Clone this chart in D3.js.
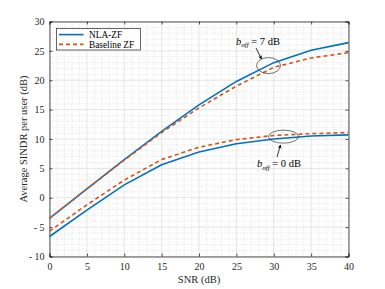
<!DOCTYPE html>
<html><head><meta charset="utf-8">
<script src="https://d3js.org/d3.v7.min.js"></script>
<style>body{margin:0;background:#fff}svg{display:block}svg text{font-family:'Liberation Serif','Times New Roman','DejaVu Serif',serif !important;}</style>
</head><body><svg id="c" width="385" height="289" font-family="Liberation Serif"></svg>
<script>
const snr = [0,5,10,15,20,25,30,35,40];
const nla7 = [-3.5,1.5,6.5,11.3,15.8,19.8,23.0,25.1,26.4];
const base7 = [-3.5,1.5,6.4,11.1,15.3,19.0,22.2,23.8,24.7];
const nla0 = [-6.6,-2.1,2.2,5.6,7.8,9.2,10.0,10.5,10.7];
const base0 = [-5.7,-1.2,3.0,6.5,8.6,9.9,10.6,10.9,11.1];
const xTicks = [0,5,10,15,20,25,30,35,40];
const yTicks = [-10,-5,0,5,10,15,20,25,30];
const seriesNames = ["NLA-ZF","Baseline ZF"];

const svg = d3.select("#c");
const L=49.5,R=348.5,T=21.5,B=256.5;
const x = d3.scaleLinear().domain([0,40]).range([L,R]);
const y = d3.scaleLinear().domain([-10,30]).range([B,T]);
const g = svg.append("g");
const minorX = d3.range(0,41,1).filter(v=>v%5!==0);
const minorY = d3.range(-10,31,1).filter(v=>v%5!==0);
g.selectAll(".mx").data(minorX).enter().append("line")
 .attr("x1",d=>x(d)).attr("x2",d=>x(d)).attr("y1",T).attr("y2",B)
 .attr("stroke","#d4d4d4").attr("stroke-width",0.6).attr("stroke-dasharray","1,1.5");
g.selectAll(".my").data(minorY).enter().append("line")
 .attr("y1",d=>y(d)).attr("y2",d=>y(d)).attr("x1",L).attr("x2",R)
 .attr("stroke","#d4d4d4").attr("stroke-width",0.6).attr("stroke-dasharray","1,1.5");
g.selectAll(".gx").data(xTicks).enter().append("line")
 .attr("x1",d=>x(d)).attr("x2",d=>x(d)).attr("y1",T).attr("y2",B)
 .attr("stroke","#dedede").attr("stroke-width",0.8);
g.selectAll(".gy").data(yTicks).enter().append("line")
 .attr("y1",d=>y(d)).attr("y2",d=>y(d)).attr("x1",L).attr("x2",R)
 .attr("stroke","#dedede").attr("stroke-width",0.8);

const ax = d3.axisBottom(x).tickValues(xTicks).tickSize(-3).tickPadding(6);
const ay = d3.axisLeft(y).tickValues(yTicks).tickSize(-3).tickPadding(5).tickFormat(d=>d<0?"- "+Math.abs(d):d);
const gx = svg.append("g").attr("transform",`translate(0,${B})`).call(ax);
const gy = svg.append("g").attr("transform",`translate(${L},0)`).call(ay);
const gx2 = svg.append("g").attr("transform",`translate(0,${T})`).call(d3.axisTop(x).tickValues(xTicks).tickSize(-3).tickFormat(""));
const gy2 = svg.append("g").attr("transform",`translate(${R},0)`).call(d3.axisRight(y).tickValues(yTicks).tickSize(-3).tickFormat(""));
[gx,gy,gx2,gy2].forEach(a=>{
  a.attr("font-family","Liberation Serif");
  a.selectAll("path").attr("stroke","#262626").attr("stroke-width",0.8);
  a.selectAll("line").attr("stroke","#262626").attr("stroke-width",0.8);
  a.selectAll("text").attr("fill","#262626").style("font-size","10px");
});

const line = d3.line().x((d,i)=>x(snr[i])).y(d=>y(d));
const blue="#0072BD", red="#D95319";
[[nla7,blue,null],[base7,red,"4,3"],[nla0,blue,null],[base0,red,"4,3"]].forEach(([arr,c,da])=>{
  const p = svg.append("path").attr("d",line(arr)).attr("fill","none").attr("stroke",c).attr("stroke-width",1.6);
  if(da) p.attr("stroke-dasharray",da);
});

svg.append("ellipse").attr("cx",x(29.3)).attr("cy",y(22.5)).attr("rx",12).attr("ry",8)
 .attr("fill","none").attr("stroke","#333").attr("stroke-width",0.7);
svg.append("ellipse").attr("cx",x(31.3)).attr("cy",y(10.4)).attr("rx",15).attr("ry",6.5)
 .attr("fill","none").attr("stroke","#333").attr("stroke-width",0.7);
svg.append("defs").append("marker").attr("id","ah").attr("viewBox","0 0 10 10").attr("refX",9).attr("refY",5)
 .attr("markerWidth",5).attr("markerHeight",5).attr("orient","auto")
 .append("path").attr("d","M0,0L10,5L0,10L3,5Z").attr("fill","#000");
svg.append("line").attr("x1",256).attr("y1",48).attr("x2",261.5).attr("y2",59).attr("stroke","#000").attr("stroke-width",0.8).attr("marker-end","url(#ah)");
svg.append("line").attr("x1",277).attr("y1",157).attr("x2",280.5).attr("y2",145).attr("stroke","#000").attr("stroke-width",0.8).attr("marker-end","url(#ah)");

function ann(tx,ty,val){
  const t = svg.append("text").attr("x",tx).attr("y",ty).style("font-size","10.5px").attr("fill","#000");
  t.append("tspan").text("b").style("font-style","italic");
  t.append("tspan").text("off").attr("dy",2.5).style("font-size","7px").style("font-style","italic");
  t.append("tspan").text(" = "+val+" dB").attr("dy",-2.5);
}
ann(236,44.5,7);
ann(257,167,0);

svg.append("rect").attr("x",56.5).attr("y",28.5).attr("width",84).attr("height",21.5)
 .attr("fill","#fff").attr("stroke","#262626").attr("stroke-width",0.7);
[[blue,null,34.6],[red,"4,3",44.4]].forEach(([c,da,yy],i)=>{
  const l = svg.append("line").attr("x1",59).attr("x2",83.5).attr("y1",yy).attr("y2",yy).attr("stroke",c).attr("stroke-width",1.6);
  if(da) l.attr("stroke-dasharray",da);
  svg.append("text").attr("x",89).attr("y",yy+3.1).text(seriesNames[i]).style("font-size","9.3px").attr("fill","#000");
});

svg.append("text").attr("x",(L+R)/2).attr("y",283).attr("text-anchor","middle").text("SNR (dB)").style("font-size","10.5px").attr("fill","#262626");
svg.append("text").attr("transform",`translate(27,${(T+B)/2}) rotate(-90)`).attr("text-anchor","middle").text("Average SINDR per user (dB)").style("font-size","10.5px").attr("fill","#262626");
</script></body></html>
